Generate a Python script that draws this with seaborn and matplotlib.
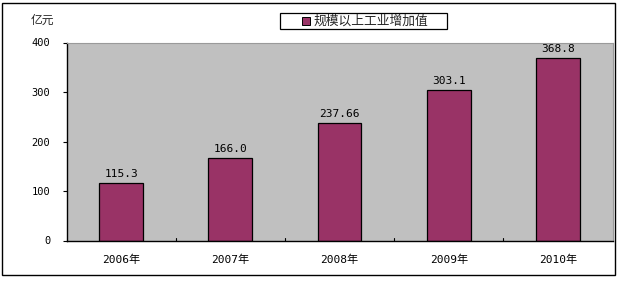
import matplotlib
matplotlib.use("Agg")
import matplotlib.pyplot as plt
import seaborn as sns
import pandas as pd
from matplotlib.patches import Rectangle

years = ["2006年", "2007年", "2008年", "2009年", "2010年"]
values = [115.3, 166.0, 237.66, 303.1, 368.8]
labels = ["115.3", "166.0", "237.66", "303.1", "368.8"]
series_name = "规模以上工业增加值"
unit = "亿元"

sns.set_theme(style="white")
plt.rcParams['font.family'] = ['Noto Sans CJK SC', 'DejaVu Sans']
NUMFONT = ['DejaVu Sans Mono', 'Noto Sans CJK SC']

df = pd.DataFrame({"year": years, "value": values, "series": series_name})

W, H = 623, 281
fig = plt.figure(figsize=(W / 100, H / 100), dpi=100)
fig.patch.set_facecolor("white")
ax = fig.add_axes([66.5 / W, 1 - 240.5 / H, (612.5 - 66.5) / W, (240.5 - 42.5) / H])
ax.set_facecolor("#C0C0C0")

bar_color = "#993366"
sns.barplot(data=df, x="year", y="value", hue="series", palette=[bar_color],
            width=0.4, edgecolor="black", linewidth=0.9, ax=ax, legend=False,
            saturation=1)

ax.set_ylim(0, 400)
ax.set_xlim(-0.5, 4.5)
ax.set_yticks([0, 100, 200, 300, 400])
ax.set_yticklabels(["0", "100", "200", "300", "400"])
for t in ax.get_yticklabels():
    t.set_family(NUMFONT)
    t.set_fontsize(7.5)
    t.set_color("black")
for t in ax.get_xticklabels():
    t.set_family(NUMFONT)
    t.set_fontsize(8)
    t.set_color("black")
ax.set_xlabel("")
ax.set_ylabel("")
ax.tick_params(axis="x", length=0, pad=10)
ax.tick_params(axis="y", length=3, width=0.8, direction="out", left=True,
               color="black", pad=8.6)
for x in [0.5, 1.5, 2.5, 3.5]:
    ax.plot([x, x], [0, 5], color="black", lw=0.8, clip_on=False)

for s in ["left", "bottom"]:
    ax.spines[s].set_color("black")
    ax.spines[s].set_linewidth(1.0)
for s in ["top", "right"]:
    ax.spines[s].set_color("#9a9a9a")
    ax.spines[s].set_linewidth(0.8)

for i, (v, lab) in enumerate(zip(values, labels)):
    ax.annotate(lab, (i, v), xytext=(0, 4.5), textcoords="offset points",
                ha="center", va="baseline", fontsize=8, color="black",
                family=NUMFONT)

# unit label
fig.text(31 / W, 1 - 20 / H, unit, ha="left", va="center", fontsize=8.5)

# legend box
lx0, ly0, lx1, ly1 = 279.5, 13, 447, 29
fig.patches.append(Rectangle((lx0 / W, 1 - ly1 / H), (lx1 - lx0) / W, (ly1 - ly0) / H,
                             transform=fig.transFigure, facecolor="white",
                             edgecolor="black", linewidth=0.9))
fig.patches.append(Rectangle((302 / W, 1 - 25 / H), 8 / W, 8 / H,
                             transform=fig.transFigure, facecolor=bar_color,
                             edgecolor="black", linewidth=0.7))
fig.text(313 / W, 1 - 21 / H, series_name, ha="left", va="center", fontsize=9.2)

# outer frame
fig.patches.append(Rectangle((2.5 / W, 1 - 275 / H), (615 - 2.5) / W, (275 - 2.5) / H,
                             transform=fig.transFigure, facecolor="none",
                             edgecolor="black", linewidth=1.0))

fig.savefig("out.png", dpi=100)
